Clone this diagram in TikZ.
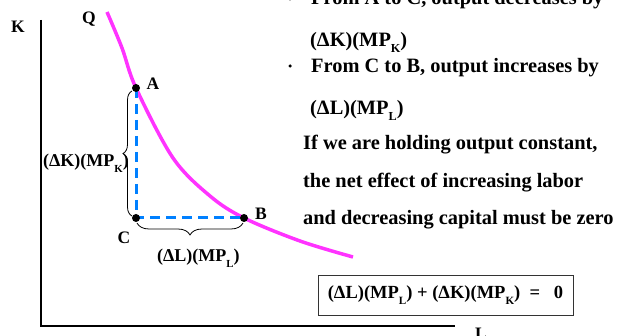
\documentclass[tikz,border=0pt]{standalone}
\usepackage{fontspec}
\setmainfont{Liberation Serif}
\usepackage{graphicx}
\usetikzlibrary{decorations.pathreplacing}
\definecolor{magcurve}{RGB}{255,51,255}
\definecolor{dashblue}{RGB}{0,128,255}
\newcommand\subsc[1]{\raisebox{-0.28em}{\scalebox{0.6}{#1}}}
\begin{document}
\begin{tikzpicture}[x=1pt,y=-1pt,
  lbl/.style={font=\fontsize{17.5}{20}\selectfont\bfseries, inner sep=0pt},
  brlbl/.style={font=\fontsize{18}{21}\selectfont\bfseries, inner sep=0pt, anchor=base west},
  rtxt/.style={font=\fontsize{20.4}{24}\selectfont\bfseries, inner sep=0pt, anchor=base west},
  dot/.style={circle, fill=black, inner sep=0pt, minimum size=8pt},
  bul/.style={circle, fill=black, inner sep=0pt, minimum size=3.5pt},
  dashln/.style={dashblue, line width=3pt, dash pattern=on 10pt off 6pt},
  bracestyle/.style={decorate, line width=0.8pt}
]
\useasboundingbox (0,0) rectangle (618,336);
% axes
\coordinate (Ktop) at (40.5,20);
\coordinate (O) at (40.5,326);
\coordinate (Lend) at (455,326);
\draw[line width=2pt] (Ktop) -- (O) -- (Lend);
\node[lbl] (Klab) at (18,27) {K};
\node[lbl, anchor=north] (Llab) at (481,328) {L};
% isoquant
\draw[magcurve, line width=3.5pt] plot[smooth, tension=0.55] coordinates {(107,12) (122,48) (136,88) (173,158) (210,196) (244,218) (300,241) (353,257)};
\node[lbl] (Qlab) at (89,19) {Q};
% points
\coordinate (Ap) at (136,88);
\coordinate (Cp) at (136,218);
\coordinate (Bp) at (244,218);
\draw[dashln] (Ap) -- (Cp) -- (Bp);
\node[dot] (A) at (Ap) {};
\node[dot] (C) at (Cp) {};
\node[dot] (B) at (Bp) {};
\node[lbl] (Alab) at (153,84) {A};
\node[lbl] (Blab) at (261,214) {B};
\node[lbl] (Clab) at (124,238) {C};
% braces
\draw[bracestyle, decoration={brace, amplitude=9pt}] (132,216) -- (132,91);
\draw[bracestyle, decoration={brace, amplitude=12pt}] (243,223) -- (137,223);
\node[brlbl] (dk) at (43,167) {(ΔK)(MP\subsc{K})};
\node[brlbl] (dl) at (157,262) {(ΔL)(MP\subsc{L})};
% right text
\node[bul] (b1) at (290,-1) {};
\node[rtxt] (t1) at (311,5) {From A to C, output decreases by};
\node[rtxt] (t2) at (310,47) {(ΔK)(MP\subsc{K})};
\node[bul] (b2) at (290,66) {};
\node[rtxt] (t3) at (311,73) {From C to B, output increases by};
\node[rtxt] (t4) at (310,115) {(ΔL)(MP\subsc{L})};
\node[rtxt] (t5) at (303,150) {If we are holding output constant,};
\node[rtxt] (t6) at (303,188) {the net effect of increasing labor};
\node[rtxt] (t7) at (303,225) {and decreasing capital must be zero};
% equation box
\node[draw=black!80, line width=0.8pt, minimum width=255pt, minimum height=40pt, inner sep=0pt,
  font=\fontsize{18.5}{22}\selectfont\bfseries] (eq) at (445.5,295)
  {(ΔL)(MP\subsc{L}) + (ΔK)(MP\subsc{K})\ \ =\ \ \ 0};
\end{tikzpicture}
\end{document}
